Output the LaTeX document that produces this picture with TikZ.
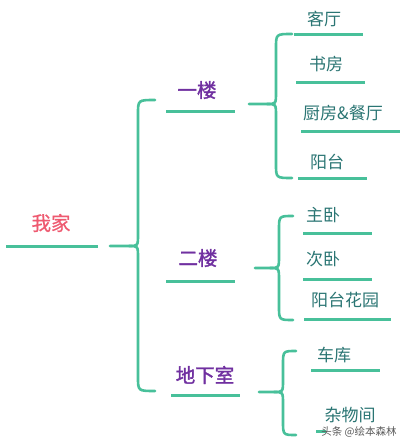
\documentclass[tikz,border=0pt]{standalone}
\usepackage{fontspec}
\newfontfamily\cjk{Noto Sans CJK SC}
\newfontfamily\cjkb[FakeBold=1.6]{Noto Sans CJK SC}
\newfontfamily\cjkr[FakeBold=0.8]{Noto Sans CJK SC}
\definecolor{lg}{HTML}{48C09A}
\definecolor{rootc}{HTML}{EE5A70}
\definecolor{lvc}{HTML}{7030A0}
\definecolor{leafc}{HTML}{2A7573}
\tikzset{
  uline/.style={draw=lg, line width=3pt},
  brace/.style={draw=lg, line width=2.6pt, line cap=round},
  rootn/.style={font=\cjkr\fontsize{19.5}{19.5}\selectfont, text=rootc, inner sep=0pt},
  lvn/.style={font=\cjkb\fontsize{19.5}{19.5}\selectfont, text=lvc, inner sep=0pt},
  leafn/.style={font=\cjk\fontsize{17}{17}\selectfont, text=leafc, inner sep=0pt},
  wm/.style={font=\cjk\fontsize{10.5}{10.5}\selectfont, text=black!65, inner sep=0pt},
}
% brace: #1 stub start x, #2 vertical x, #3 top y, #4 mid y, #5 bottom y, #6 end x
\newcommand{\mybrace}[6]{%
  \draw[brace] (#1,#4) -- (#2-9,#4)
    .. controls (#2,#4) .. (#2,#4-12) -- (#2,#3+14)
    .. controls (#2,#3) .. (#6,#3);
  \draw[brace] (#2-9,#4)
    .. controls (#2,#4) .. (#2,#4+12) -- (#2,#5-14)
    .. controls (#2,#5) .. (#6,#5);
}
\begin{document}
\begin{tikzpicture}[x=1pt,y=-1pt]
\useasboundingbox (0,0) rectangle (404,447);
% root
\node[rootn] (root) at (51,223) {我家};
\draw[uline] (6,246) -- (98,246);
\mybrace{110}{138}{100}{246}{391}{155}
% level 1
\node[lvn] (l1) at (197,90) {一楼};
\draw[uline] (166,111) -- (235,111);
\node[lvn] (l2) at (198,258) {二楼};
\draw[uline] (166,281) -- (235,281);
\node[lvn] (l3) at (205,375) {地下室};
\draw[uline] (171,395) -- (240,395);
% braces level 2
\mybrace{249}{276}{34}{104}{178}{292}
\mybrace{255}{279}{216}{268}{320}{293}
\mybrace{259}{283}{351}{392}{435}{296}
% leaves of 一楼
\node[leafn] (a1) at (324,19) {客厅};
\draw[uline] (294,34) -- (363,34);
\node[leafn] (a2) at (326,64) {书房};
\draw[uline] (296,82) -- (365,82);
\node[leafn] (a3) at (343,113) {厨房\&餐厅};
\draw[uline] (301,131) -- (400,131);
\node[leafn] (a4) at (327,162) {阳台};
\draw[uline] (298,178) -- (367,178);
% leaves of 二楼
\node[leafn] (b1) at (323,215) {主卧};
\draw[uline] (303,233) -- (372,233);
\node[leafn] (b2) at (323,259) {次卧};
\draw[uline] (303,279) -- (372,279);
\node[leafn] (b3) at (345,300) {阳台花园};
\draw[uline] (304,319) -- (391,319);
% leaves of 地下室
\node[leafn] (c1) at (334,355) {车库};
\draw[uline] (311,370) -- (380,370);
\node[leafn] (c2) at (350,415) {杂物间};
\draw[uline] (316,431) -- (326,431);
\node[wm] (wm) at (359,432) {头条 @绘本森林};
\end{tikzpicture}
\end{document}
